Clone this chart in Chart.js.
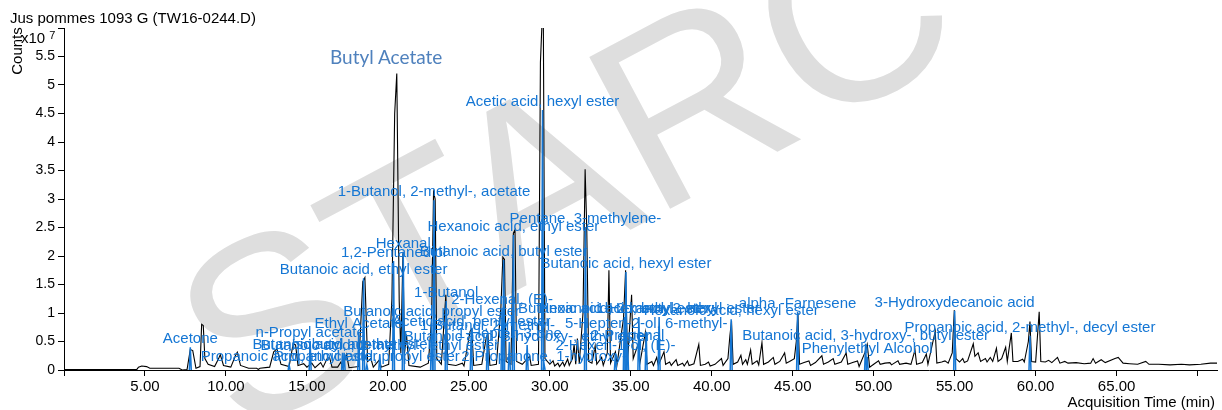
<!DOCTYPE html>
<html lang="fr">
<head>
<meta charset="UTF-8">
<title>Jus pommes 1093 G (TW16-0244.D)</title>
<script src="https://cdn.jsdelivr.net/npm/chart.js@4/dist/chart.umd.min.js"></script>
<style>
  * { box-sizing: border-box; margin: 0; padding: 0; }
  body { background: #fff; font-family: 'Liberation Sans', Arial, sans-serif; color: #000; }
  .wrap { position: relative; width: 1222px; height: 410px; overflow: hidden; }
  .wrap canvas { position: absolute; left: 0; top: 0; }
  .txt { position: absolute; white-space: nowrap; line-height: 1; }
  .title { left: 10px; top: 10px; font-size: 15px; }
  .counts { left: 16px; top: 51px; font-size: 15px; transform: translate(-50%, -50%) rotate(-90deg); }
  .mult { left: 21px; top: 30px; font-size: 15px; }
  .mult sup { font-size: 11px; position: relative; top: -4px; margin-left: 4px; vertical-align: baseline; }
  .xtitle { right: 7px; top: 394px; font-size: 15px; }
  .butyl { left: 330px; top: 47px; font-size: 19px; color: #4f81bd; font-family: Lato, 'Open Sans', sans-serif; }
</style>
</head>
<body>
<div class="wrap">
  <canvas id="chart" width="1222" height="410"></canvas>
  <div class="txt title">Jus pommes 1093 G (TW16-0244.D)</div>
  <div class="txt counts">Counts</div>
  <div class="txt mult">x10<sup>7</sup></div>
  <div class="txt xtitle">Acquisition Time (min)</div>
  <div class="txt butyl">Butyl Acetate</div>
</div>
<script>
const BLUE = '#1476d4'
const FONT = "'Liberation Sans', Arial, sans-serif"

// total ion trace, [minutes, counts x1e7]
const tic = [
  [0,0.01],[4.5,0.01],[4.6,0.05],[4.8,0.07],[5.1,0.06],[5.3,0.03],[7.1,0.03],[7.3,0.0],[7.6,0.01],[7.8,0.36],[7.95,0.34],[8.15,0.03],
  [8.4,0.06],[8.5,0.8],[8.6,0.78],[8.7,0.2],[8.9,0.1],[9.3,0.06],[9.55,0.2],[9.65,0.27],[9.85,0.08],[10.3,0.05],[10.6,0.26],[10.7,0.31],
  [10.9,0.08],[11.4,0.03],[11.9,0.03],[12.0,0.01],[12.1,0.03],[12.7,0.05],[12.95,0.32],[13.15,0.37],[13.4,0.1],[13.9,0.06],[14.15,0.46],
  [14.3,0.44],[14.45,0.08],[14.8,0.11],[15.0,0.05],[15.3,0.12],[15.5,0.04],[15.85,0.13],[16.0,0.05],[16.25,0.2],[16.4,0.22],[16.55,0.05],
  [16.9,0.05],[17.1,0.14],[17.2,0.05],[17.45,0.27],[17.6,0.04],[18.2,0.06],[18.45,1.55],[18.58,1.62],[18.75,0.15],[18.95,0.2],[19.1,0.05],
  [19.45,0.17],[19.6,0.05],[20.05,0.1],[20.25,1.25],[20.42,4.5],[20.55,5.2],[20.7,1.2],[20.8,0.3],[20.93,2.05],[21.03,0.3],[21.15,0.62],
  [21.3,0.08],[22.0,0.05],[22.5,0.12],[22.7,0.9],[22.82,3.12],[22.92,3.0],[23.02,0.2],[23.3,0.1],[23.58,1.32],[23.7,0.1],[24.2,0.08],
  [24.6,0.12],[24.7,0.07],[25.08,0.68],[25.18,0.72],[25.3,0.08],[25.8,0.1],[26.08,0.58],[26.18,0.62],[26.3,0.08],[26.7,0.1],[26.98,1.1],
  [27.1,1.98],[27.2,1.94],[27.3,0.15],[27.6,0.1],[27.75,2.4],[27.85,2.46],[27.95,0.15],[28.3,0.1],[28.75,0.24],[28.85,0.08],[29.3,0.1],
  [29.42,5.4],[29.52,6.1],[29.6,6.1],[29.7,0.2],[30.0,0.1],[30.2,0.16],[30.3,0.07],[30.5,0.12],[30.6,0.06],[30.8,0.14],[30.9,0.07],
  [31.1,0.19],[31.2,0.08],[31.4,0.2],[31.5,0.45],[31.6,0.1],[31.7,0.55],[31.82,0.12],[32.05,1.0],[32.18,3.52],[32.28,2.5],[32.4,0.15],
  [32.6,0.12],[32.8,0.42],[32.9,0.1],[33.2,0.22],[33.3,0.08],[33.55,0.3],[33.65,1.75],[33.75,0.12],[34.05,0.32],[34.15,0.1],[34.55,0.9],
  [34.68,1.75],[34.8,0.15],[35.05,1.32],[35.15,0.2],[35.45,0.45],[35.55,0.1],[35.9,0.66],[36.0,0.1],[36.3,0.15],[36.4,0.08],[36.6,0.22],
  [36.7,0.08],[37.05,0.32],[37.15,0.1],[37.4,0.14],[37.5,0.08],[37.8,0.18],[37.9,0.08],[38.2,0.12],[38.3,0.07],[38.5,0.16],[38.6,0.08],
  [38.9,0.11],[39.2,0.45],[39.3,0.08],[39.6,0.1],[39.8,0.14],[39.9,0.07],[40.2,0.1],[40.6,0.2],[40.7,0.08],[41.0,0.2],[41.12,0.6],
  [41.22,0.86],[41.32,0.1],[41.6,0.14],[41.8,0.26],[41.9,0.1],[42.1,0.18],[42.2,0.1],[42.4,0.35],[42.5,0.1],[42.8,0.16],[42.9,0.09],
  [43.1,0.48],[43.2,0.1],[43.5,0.14],[43.8,0.22],[43.9,0.1],[44.2,0.15],[44.5,0.3],[44.6,0.12],[44.8,0.15],[45.1,0.2],[45.22,0.5],
  [45.32,1.0],[45.42,0.1],[45.7,0.13],[46.0,0.16],[46.1,0.08],[46.4,0.13],[46.8,0.25],[46.9,0.1],[47.2,0.14],[47.5,0.2],[47.6,0.1],
  [48.0,0.14],[48.3,0.3],[48.4,0.1],[48.7,0.13],[49.0,0.16],[49.1,0.06],[49.45,0.3],[49.6,0.45],[49.75,0.05],[50.0,0.1],[50.3,0.16],
  [50.4,0.1],[50.7,0.12],[51.0,0.13],[51.1,0.09],[51.5,0.16],[51.6,0.1],[52.0,0.12],[52.3,0.1],[52.55,0.35],[52.65,0.1],[53.0,0.13],
  [53.25,0.28],[53.35,0.1],[53.8,0.68],[53.9,0.12],[54.2,0.14],[54.4,0.16],[54.6,0.12],[54.85,0.3],[54.98,1.05],[55.08,0.2],[55.3,0.14],
  [55.5,0.2],[55.6,0.13],[55.8,0.16],[56.15,0.46],[56.25,0.24],[56.45,0.3],[56.6,0.15],[56.9,0.2],[57.0,0.14],[57.2,0.22],[57.35,0.15],
  [57.58,0.38],[57.68,0.15],[57.9,0.2],[58.15,0.4],[58.25,0.15],[58.5,0.65],[58.6,0.15],[58.9,0.15],[59.2,0.19],[59.3,0.14],[59.55,0.5],
  [59.65,0.85],[59.75,0.15],[60.0,0.14],[60.22,1.02],[60.32,0.15],[60.6,0.14],[60.8,0.17],[61.0,0.13],[61.35,0.22],[61.5,0.12],[61.8,0.15],
  [62.0,0.12],[62.5,0.13],[63.0,0.11],[63.4,0.12],[63.55,0.2],[63.7,0.12],[64.05,0.18],[64.3,0.13],[64.9,0.2],[65.1,0.22],[65.4,0.12],
  [65.8,0.11],[66.3,0.1],[66.8,0.15],[67.0,0.1],[67.6,0.1],[68.3,0.09],[69.0,0.1],[69.5,0.09],[70.2,0.1],[70.8,0.12],[71.2,0.12]
]

// identified compounds: name, retention time (min), extracted peak height (x1e7)
const compoundNames = [
  'Acetone', 'Propanoic acid, ethyl ester', 'n-Propyl acetate', 'Butanoic acid, methyl ester', 'Isobutyl acetate',
  'Ethyl Acetate', 'Butanoic acid, ethyl ester', 'Propanoic acid, propyl ester', 'Butanoic acid, 2-methyl-, ethyl ester',
  '1,2-Pentanediol', 'Hexanal', 'Butanoic acid, propyl ester', '1-Butanol, 2-methyl-, acetate', '1-Butanol',
  'Acetic acid, pentyl ester', '1-Butanol, 2-methyl-', '2-Hexenal, (E)-', 'Butanoic acid, butyl ester', '1-Hepten-3-one',
  'Hexanoic acid, ethyl ester', 'Butanoic acid, 3-hydroxy-, ethyl ester', 'Acetic acid, hexyl ester', '2-Propanone, 1-hydroxy-',
  'Pentane, 3-methylene-', '2-Hexen-1-ol, (E)-', 'Hexanoic acid, butyl ester', 'Butanoic acid, hexyl ester', '2-Propenal',
  'Butanoic acid, 2-methyl-, hexyl ester', '5-Hepten-2-ol, 6-methyl-', '1-Hexanol, 2-ethyl-', 'Hexanoic acid, hexyl ester',
  'alpha -Farnesene', 'Butanoic acid, 3-hydroxy-, butyl ester', 'Phenylethyl Alcohol', '3-Hydroxydecanoic acid',
  'Propanoic acid, 2-methyl-, decyl ester'
]
const compoundTimes = [
  7.8, 13.9, 15.2, 17.2, 17.3,
  18.2, 18.5, 18.7, 19.5,
  20.35, 20.95, 22.7, 22.85, 23.6,
  25.15, 26.15, 27.05, 27.15, 27.5,
  27.75, 28.6, 29.55, 29.65,
  32.2, 34.05, 34.6, 34.7, 34.8,
  35.5, 35.95, 36.75, 41.2,
  45.3, 49.5, 49.6, 55.0,
  59.65
]
const compoundHeights = [
  0.40, 0.09, 0.51, 0.30, 0.30,
  0.67, 1.61, 0.09, 0.28,
  1.91, 2.07, 0.88, 2.98, 1.21,
  0.70, 0.63, 1.09, 1.93, 0.49,
  2.37, 0.44, 4.56, 0.09,
  2.51, 0.28, 0.93, 1.72, 0.46,
  0.93, 0.67, 0.93, 0.89,
  1.02, 0.46, 0.23, 1.04,
  0.60
]

const xTicks = { min: 0, max: 71.2, step: 5, firstLabel: 5, lastLabel: 65 }
const yTicks = { min: 0, max: 6, step: 0.5 }
const PEAK_HALF_WIDTH = 0.06

const peakSets = compoundNames.map((name, i) => ({
  label: name,
  data: [
    { x: compoundTimes[i] - PEAK_HALF_WIDTH, y: 0 },
    { x: compoundTimes[i], y: compoundHeights[i] },
    { x: compoundTimes[i] + PEAK_HALF_WIDTH, y: 0 }
  ],
  showLine: true, borderColor: BLUE, borderWidth: 1.5, pointRadius: 0, tension: 0, order: 1
}))

const watermark = {
  id: 'watermark',
  beforeDraw(chart) {
    const ctx = chart.ctx
    ctx.save()
    ctx.fillStyle = '#dedede'
    ctx.font = '250px ' + FONT
    ctx.translate(239, 438)
    ctx.rotate(-28 * Math.PI / 180)
    ctx.fillText('STARC', 0, 0)
    ctx.restore()
  }
}

const peakLabels = {
  id: 'peakLabels',
  afterDatasetsDraw(chart) {
    const { ctx, scales: { x, y } } = chart
    ctx.save()
    ctx.font = '15px ' + FONT
    ctx.fillStyle = BLUE
    ctx.textAlign = 'center'
    ctx.textBaseline = 'alphabetic'
    compoundNames.forEach((name, i) => {
      ctx.fillText(name, x.getPixelForValue(compoundTimes[i]), y.getPixelForValue(compoundHeights[i]) - 4)
    })
    ctx.restore()
  }
}

new Chart(document.getElementById('chart'), {
  type: 'scatter',
  data: {
    datasets: [
      { label: 'TIC', data: tic.map(p => ({ x: p[0], y: p[1] })), showLine: true, borderColor: '#000', borderWidth: 1.1, pointRadius: 0, tension: 0, order: 2 },
      ...peakSets
    ]
  },
  options: {
    responsive: false,
    animation: false,
    events: [],
    layout: { padding: { top: 28, right: 5, left: 0, bottom: 0 } },
    plugins: { legend: { display: false }, tooltip: { enabled: false } },
    scales: {
      x: {
        type: 'linear', min: xTicks.min, max: xTicks.max,
        afterFit: s => { s.height = 40 },
        border: { color: '#000', width: 1 },
        grid: { drawOnChartArea: false, color: '#000', tickLength: 6 },
        ticks: {
          stepSize: xTicks.step, includeBounds: false, autoSkip: false, maxRotation: 0, padding: 2,
          color: '#000', font: { size: 15, family: FONT },
          callback: v => (v >= xTicks.firstLabel && v <= xTicks.lastLabel) ? v.toFixed(2) : ''
        }
      },
      y: {
        min: yTicks.min, max: yTicks.max,
        afterFit: s => { s.width = 64 },
        border: { color: '#000', width: 1 },
        grid: { drawOnChartArea: false, color: '#000', tickLength: 6 },
        ticks: {
          stepSize: yTicks.step, padding: 3, color: '#000', font: { size: 14, family: FONT },
          callback: v => v >= yTicks.max ? '' : String(Math.round(v * 10) / 10)
        }
      }
    }
  },
  plugins: [watermark, peakLabels]
})
</script>
</body>
</html>
